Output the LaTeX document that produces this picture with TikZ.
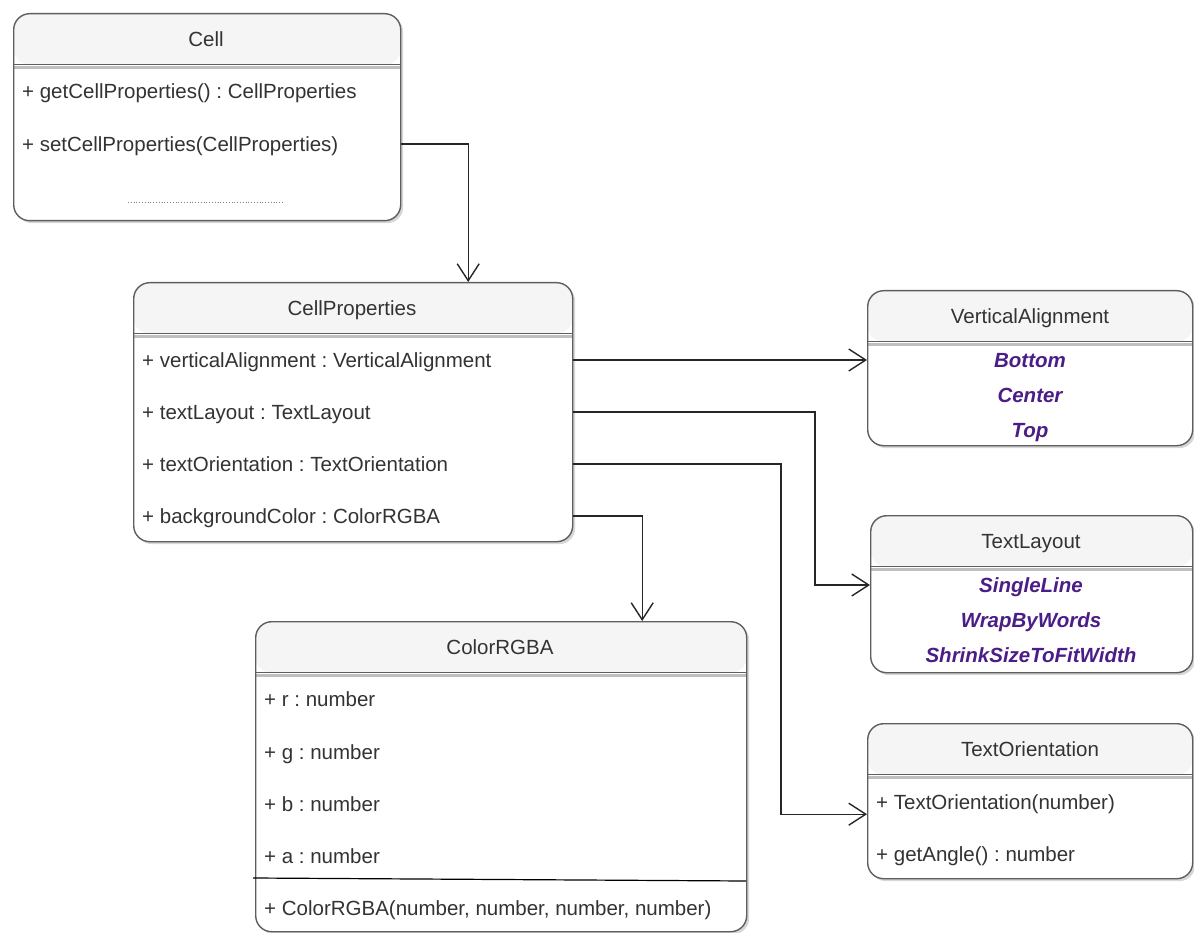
\documentclass[tikz,border=0pt]{standalone}
\usepackage{fontspec}
\setmainfont{Liberation Sans}
\usetikzlibrary{arrows.meta,shadows}
\definecolor{linegray}{HTML}{5E5E5E}
\definecolor{hdrfill}{HTML}{F5F5F5}
\definecolor{txtgray}{HTML}{333333}
\definecolor{enumpurple}{HTML}{4B1D87}
\frenchspacing
\begin{document}
\begin{tikzpicture}[x=1pt, y=-1pt,
    font=\fontsize{20.5}{24}\selectfont,
    classbox/.style={draw=linegray, line width=1.4pt, rounded corners=16pt, fill=white, anchor=north west,
      drop shadow={shadow xshift=2.5pt, shadow yshift=-2.5pt, fill=gray!45, opacity=0.7},
      path picture={
        \fill[hdrfill] (path picture bounding box.north west) rectangle ([yshift=-51pt]path picture bounding box.north east);
        \draw[gray!50, line width=3pt] ([yshift=-53.5pt]path picture bounding box.north west) -- ([yshift=-53.5pt]path picture bounding box.north east);
        \draw[linegray, line width=1.4pt] ([yshift=-51pt]path picture bounding box.north west) -- ([yshift=-51pt]path picture bounding box.north east);
      }},
    title/.style={text=txtgray, inner sep=0pt, text height=18pt, text depth=3.5pt},
    row/.style={text=txtgray, anchor=west, inner sep=0pt, text height=18pt, text depth=3.5pt},
    enum/.style={text=enumpurple, inner sep=0pt, text height=18pt, text depth=3.5pt, font=\fontsize{20.5}{24}\selectfont\bfseries\itshape},
    arr/.style={draw=black!85, line width=1.4pt, -{Straight Barb[length=17pt, width=22pt]}}]
  \useasboundingbox (0,0) rectangle (1194,933);

  % class boxes
  \node[classbox, minimum width=387pt, minimum height=207pt] (cell) at (13,13) {};
  \node[classbox, minimum width=439pt, minimum height=259pt] (cellprops) at (133,282) {};
  \node[classbox, minimum width=325pt, minimum height=155pt] (valign) at (867,290) {};
  \node[classbox, minimum width=322pt, minimum height=157pt] (tlayout) at (870,515) {};
  \node[classbox, minimum width=325pt, minimum height=155pt] (torient) at (867,723) {};
  \node[classbox, minimum width=491pt, minimum height=310pt] (colorrgba) at (255,621) {};

  % Cell
  \node[title] (celltitle) at (206,39) {Cell};
  \node[row] (cellget) at (22,91) {+ getCellProperties() : CellProperties};
  \node[row] (cellset) at (22,144) {+ setCellProperties(CellProperties)};
  \draw[gray, dotted, line width=0.8pt] (128,202) -- (283,202);

  % CellProperties
  \node[title] (cptitle) at (352,308) {CellProperties};
  \node[row] (cpvalign) at (142,360) {+ verticalAlignment : VerticalAlignment};
  \node[row] (cplayout) at (142,412) {+ textLayout : TextLayout};
  \node[row] (cporient) at (142,464) {+ textOrientation : TextOrientation};
  \node[row] (cpbg) at (142,516) {+ backgroundColor : ColorRGBA};

  % enums
  \node[title] (vatitle) at (1030,316) {VerticalAlignment};
  \node[enum] (vabottom) at (1030,360) {Bottom};
  \node[enum] (vacenter) at (1030,395) {Center};
  \node[enum] (vatop) at (1030,430) {Top};

  \node[title] (tltitle) at (1031,541) {TextLayout};
  \node[enum] (tlsingle) at (1031,585) {SingleLine};
  \node[enum] (tlwrap) at (1031,620) {WrapByWords};
  \node[enum] (tlshrink) at (1031,655) {ShrinkSizeToFitWidth};

  % TextOrientation
  \node[title] (totitle) at (1030,749) {TextOrientation};
  \node[row] (toctor) at (876,802) {+ TextOrientation(number)};
  \node[row] (toangle) at (876,854) {+ getAngle() : number};

  % ColorRGBA
  \node[title] (crtitle) at (500,647) {ColorRGBA};
  \node[row] (crr) at (264,699) {+ r : number};
  \node[row] (crg) at (264,752) {+ g : number};
  \node[row] (crb) at (264,804) {+ b : number};
  \node[row] (cra) at (264,856) {+ a : number};
  \draw[black, line width=1.2pt] (253,878) -- (746,881);
  \node[row] (crctor) at (264,908) {+ ColorRGBA(number, number, number, number)};

  % connectors
  \draw[arr] (cell.east |- cellset) -| ([xshift=115pt]cellprops.north);
  \draw[arr] (cellprops.east |- cpvalign) -- (valign.west |- cpvalign);
  \draw[arr] (cellprops.east |- cplayout) -| ([xshift=-55pt]tlayout.west |- tlsingle) -- (tlayout.west |- tlsingle);
  \draw[arr] (cellprops.east |- cporient) -| ([xshift=-86pt, yshift=-13pt]torient.west) -- ([yshift=-13pt]torient.west);
  \draw[arr] (cellprops.east |- cpbg) -| ([xshift=141pt]colorrgba.north);
\end{tikzpicture}
\end{document}
